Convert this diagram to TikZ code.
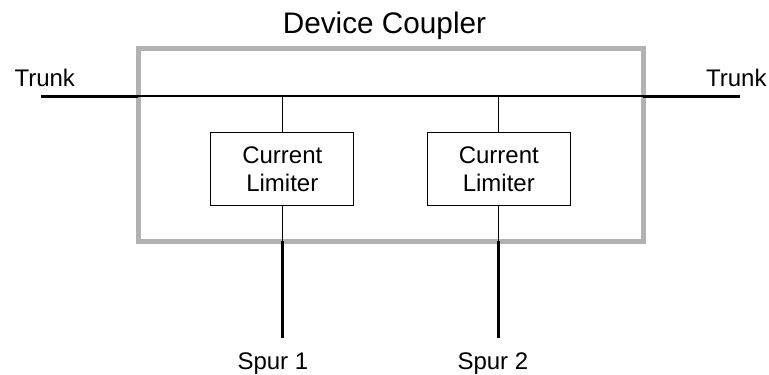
\documentclass[tikz,border=0pt]{standalone}
\usepackage{fontspec}
\setmainfont{Liberation Sans}
\definecolor{housinggray}{RGB}{178,178,178}

\tikzset{every picture/.style={line width=0.75pt}}
\tikzset{
  limiter/.style={draw, line width=0.75pt, minimum width=107.5pt, minimum height=54.2pt,
    align=center, inner sep=0pt, font=\fontsize{18}{21}\selectfont},
  label/.style={inner sep=0.75pt, font=\fontsize{18}{21}\selectfont},
  bus/.style={line width=1pt},
  cable/.style={line width=2.25pt}
}

\begin{document}
\begin{tikzpicture}[x=0.75pt,y=0.75pt,yscale=-1,xscale=1]
\useasboundingbox (0,0) rectangle (769,375);

%Shape: Rectangle [housing]
\draw [color=housinggray, line width=3.75pt] (138,48.5) rectangle (643,241);

% entry / exit points of the trunk and spurs
\coordinate (trunkL) at (41,96);
\coordinate (inL) at (138,96);
\coordinate (inR) at (643,96);
\coordinate (trunkR) at (740,96);

% Current limiters
\node [limiter] (lim1) at (282.3,169) {Current\\Limiter};
\node [limiter] (lim2) at (498.8,169) {Current\\Limiter};

\coordinate (wall1) at (lim1.south |- 0,241);
\coordinate (wall2) at (lim2.south |- 0,241);
\coordinate (spur1) at (lim1.south |- 0,338);
\coordinate (spur2) at (lim2.south |- 0,338);

%Straight Lines [trunk]
\draw [cable] (trunkL) -- (inL);
\draw [bus] (inL) -- (inR);
\draw [cable] (inR) -- (trunkR);

%Straight Lines [drops]
\draw [bus] (lim1.north |- inL) -- (lim1.north);
\draw [bus] (lim2.north |- inL) -- (lim2.north);
\draw [bus] (lim1.south) -- (wall1);
\draw [bus] (lim2.south) -- (wall2);
\draw [cable] (wall1) -- (spur1);
\draw [cable] (wall2) -- (spur2);

% Text Node
\node [anchor=base, inner sep=0.75pt, font=\fontsize{22.3}{26}\selectfont] (title) at (384.5,33) {Device Coupler};
% Text Node
\node [label, anchor=base west] (trunkLbl1) at (13,86) {Trunk};
% Text Node
\node [label, anchor=base east] (trunkLbl2) at (768,86) {Trunk};
% Text Node
\node [label, anchor=base west] (spurLbl1) at (236,369) {Spur 1};
% Text Node
\node [label, anchor=base west] (spurLbl2) at (456,369) {Spur 2};

\end{tikzpicture}
\end{document}
